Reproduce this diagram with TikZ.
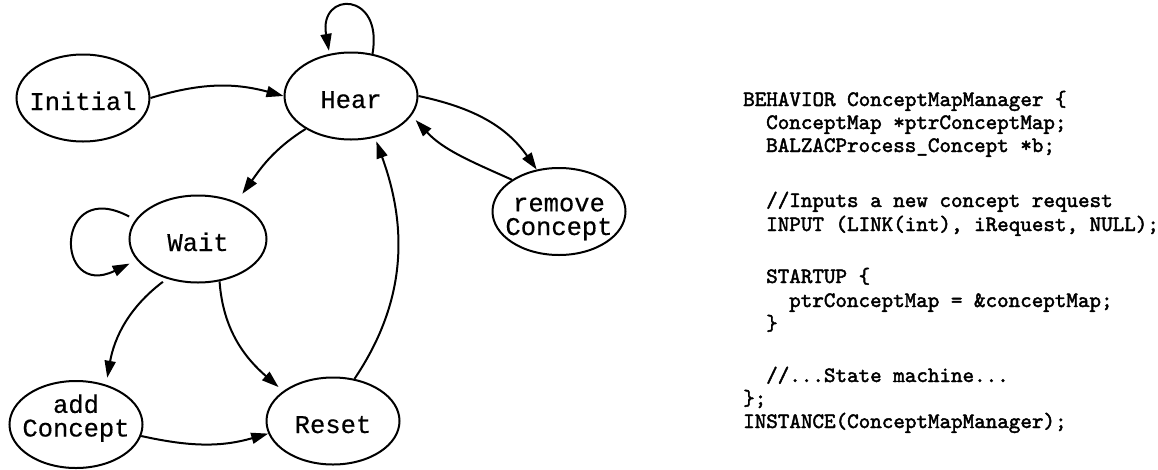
\documentclass[tikz,border=0pt]{standalone}
\usepackage{fontspec}
\newfontfamily\statefont{Liberation Mono}[FakeBold=0.4]
\newfontfamily\codefont{lmmono10-regular}[Extension=.otf, FakeBold=2]
\usetikzlibrary{arrows.meta,shapes.geometric}

\begin{document}
\begin{tikzpicture}[x=1pt,y=1pt,
  state/.style={draw, ellipse, line width=2pt,
    minimum width=133pt, minimum height=87pt,
    inner xsep=-20pt, inner ysep=-4pt,
    text height=24pt, text depth=0pt,
    font=\statefont\fontsize{25.5}{22}\selectfont},
  edge/.style={line width=2pt, -{Triangle[length=17pt,width=11pt]}},
  codeline/.style={anchor=base west, inner sep=0pt,
    font=\codefont\fontsize{22}{24}\selectfont}]

% canvas
\useasboundingbox (0,0) rectangle (1158,-469);
\fill[white] (0,0) rectangle (1158,-469);

% states
\node[state] (init) at (83,-98) {Initial};
\node[state] (hear) at (351,-96) {Hear};
\node[state, minimum width=137pt] (wait) at (198,-239) {Wait};
\node[state] (add) at (76,-424.5) {\begin{tabular}[b]{@{}c@{}}add\\Concept\end{tabular}};
\node[state] (reset) at (333,-421) {Reset};
\node[state, text height=47pt] (remove) at (559,-211.5) {\begin{tabular}[b]{@{}c@{}}remove\\Concept\end{tabular}};

% transitions
\draw[edge] (init.east) to[bend left=16] (hear.west);
\draw[edge, shorten >=3pt] (hear.63) .. controls +(80:64) and +(100:64) .. (hear.117);
\draw[edge, shorten >=10pt] (hear.216) to[out=212, in=54] (wait.44);
\draw[edge] (hear.0) to[out=-12, in=125] (remove.118);
\draw[edge, shorten >=6pt] (remove.146) to[out=156, in=-47] (hear.-18);
\draw[edge, shorten >=4pt] (reset.63) to[out=56, in=-70] (hear.-60);
\draw[edge, shorten <=7pt, shorten >=8pt] (wait.163) .. controls +(152:92) and +(206:92) .. (wait.199);
\draw[edge, shorten <=5pt, shorten >=7pt] (wait.232) to[out=217, in=80] (add.53);
\draw[edge, shorten >=6pt] (wait.-63) to[out=-86, in=139] (reset.149.5);
\draw[edge] (add.-10) to[out=-12.5, in=196] (reset.191);

% behaviour source
\node[codeline] (c1)  at (743,-106) {BEHAVIOR ConceptMapManager \{};
\node[codeline] (c2)  at (766,-129) {ConceptMap *ptrConceptMap;};
\node[codeline] (c3)  at (766,-152) {BALZACProcess\_Concept *b;};
\node[codeline] (c4)  at (766,-207) {//Inputs a new concept request};
\node[codeline] (c5)  at (766,-231) {INPUT (LINK(int), iRequest, NULL);};
\node[codeline] (c6)  at (766,-283) {STARTUP \{};
\node[codeline] (c7)  at (789,-307) {ptrConceptMap = \&conceptMap;};
\node[codeline] (c8)  at (766,-330) {\}};
\node[codeline] (c9)  at (766,-382) {//...State machine...};
\node[codeline] (c10) at (743,-405) {\};};
\node[codeline] (c11) at (743,-428) {INSTANCE(ConceptMapManager);};
\end{tikzpicture}
\end{document}
